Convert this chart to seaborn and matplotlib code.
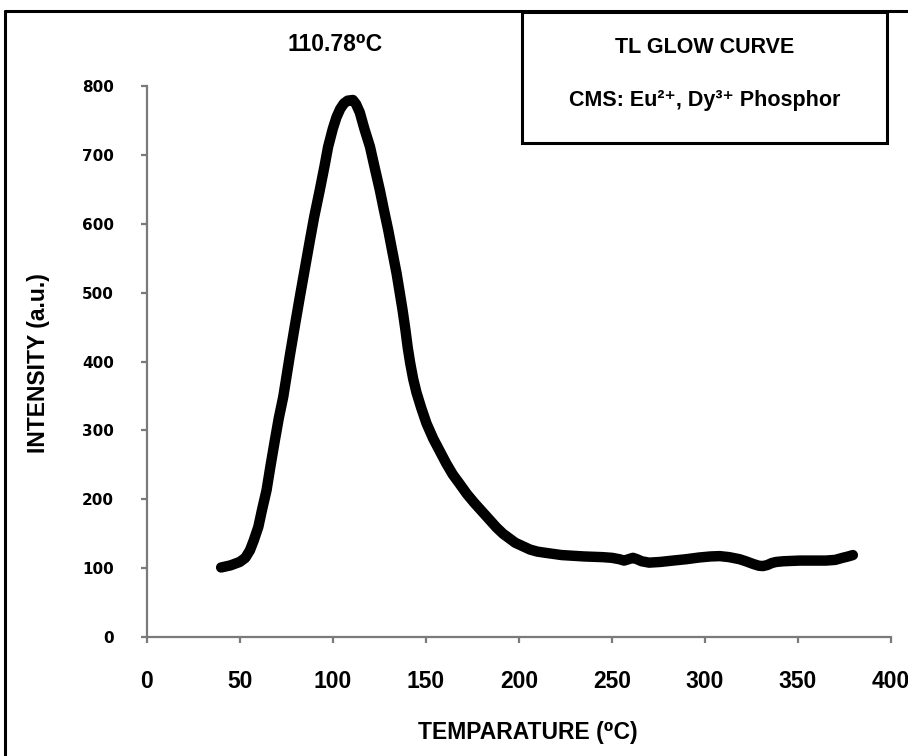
import matplotlib
matplotlib.use("Agg")
import matplotlib.pyplot as plt
import seaborn as sns
import pandas as pd
from matplotlib.patches import Rectangle
from matplotlib.lines import Line2D

# Thermoluminescence glow curve readings
temperature = [40, 45, 50, 53, 55.5, 57.5, 60, 62, 64.4, 66.5, 68.9, 71, 73.4, 77, 80,
               82.3, 85, 87.7, 90, 93, 95.5, 97.5, 100, 102, 104, 106, 108, 110.78,
               112.5, 114.5, 117, 120, 122.5, 125.3, 127.5, 129.8, 132, 134.3, 136,
               137.5, 139, 140.3, 141.6, 143.2, 145, 147.5, 150.4, 154, 157.5, 161,
               164.5, 168.3, 172, 176, 179, 182, 185, 188, 191.5, 195, 198, 202, 206,
               210, 215, 223, 235, 245, 250, 254, 256.5, 259, 261.3, 263.5, 266, 270,
               276, 282.8, 290, 297, 303, 308, 313, 318.6, 322, 326, 329, 331.2, 333.5,
               336, 338.3, 342, 351, 358, 365, 370, 374, 377, 379.5]
intensity = [101, 104, 109, 115, 126, 140, 160, 185, 213, 248, 286, 318, 349, 410, 458,
             494, 535, 576, 610, 649, 683, 712, 738, 755, 767, 775, 779, 780,
             774, 762, 738, 712, 682, 649, 620, 591, 560, 528, 500,
             475, 447, 420, 398, 375, 355, 333, 310, 288, 270, 252,
             236, 222, 208, 195, 186, 177, 168, 159, 150, 143, 137, 132, 127,
             124, 122, 119, 117, 116, 115, 113, 111, 113, 115, 113, 110, 108,
             109, 111, 113, 115.5, 117, 117.5, 116, 113, 110, 106, 103.5, 103, 104.5,
             107.5, 109, 110, 111, 111, 111, 112, 115, 117, 119]

x_ticks = [0, 50, 100, 150, 200, 250, 300, 350, 400]
y_ticks = [0, 100, 200, 300, 400, 500, 600, 700, 800]

peak_temperature = 110.78
peak_intensity = intensity[temperature.index(peak_temperature)]

box_title = "TL GLOW CURVE"
box_subtitle = "CMS: Eu²⁺, Dy³⁺ Phosphor"
x_label = "TEMPARATURE (⁰C)"
y_label = "INTENSITY (a.u.)"

sns.set_theme(style="white")
TEXT_FONT = ["Liberation Sans", "DejaVu Sans"]
plt.rcParams["font.family"] = TEXT_FONT

W, H = 908, 756
fig = plt.figure(figsize=(W / 100, H / 100), dpi=100)
fig.patch.set_facecolor("white")

# axes: x 0..400 spans px 146.7..891, y 0..800 spans px 637..86
left, right, bottom, top = 146.7, 891.0, 637.0, 86.2
ax = fig.add_axes([left / W, (H - bottom) / H, (right - left) / W, (bottom - top) / H])

df = pd.DataFrame({"temperature": temperature, "intensity": intensity})
sns.lineplot(data=df, x="temperature", y="intensity", ax=ax, color="black",
             linewidth=7.5, sort=False, estimator=None)
curve = ax.lines[0]
curve.set_solid_joinstyle("round")
curve.set_solid_capstyle("round")
curve.set_clip_on(False)

ax.set_xlim(0, 400)
ax.set_ylim(0, 800)
ax.set_xticks(x_ticks)
ax.set_yticks(y_ticks)
ax.set_xticklabels([str(t) for t in x_ticks])
ax.set_yticklabels([str(t) for t in y_ticks])

for side in ("top", "right"):
    ax.spines[side].set_visible(False)
for side in ("left", "bottom"):
    ax.spines[side].set_color("#7a7a7a")
    ax.spines[side].set_linewidth(1.6)

ax.tick_params(axis="both", direction="out", length=4.5, width=1.6, color="#7a7a7a",
               bottom=True, left=True)
ax.tick_params(axis="x", pad=19)
ax.tick_params(axis="y", pad=19)

for lbl in ax.get_xticklabels():
    lbl.set_fontfamily(TEXT_FONT)
    lbl.set_fontweight("bold")
    lbl.set_fontsize(16.5)
    lbl.set_color("black")
for lbl in ax.get_yticklabels():
    lbl.set_fontfamily(["DejaVu Sans"])
    lbl.set_fontweight("bold")
    lbl.set_fontsize(11)
    lbl.set_color("black")

ax.set_xlabel(x_label, fontsize=16.5, fontweight="bold", color="black")
ax.set_ylabel(y_label, fontsize=16.5, fontweight="bold", color="black")
ax.xaxis.set_label_coords((528 - left) / (right - left), -(732 - bottom) / (bottom - top))
ax.xaxis.label.set_va("center")
ax.yaxis.set_label_coords((38 - left) / (right - left), (bottom - 363) / (bottom - top))
ax.yaxis.label.set_va("center")

# peak temperature label
ax.annotate(f"{peak_temperature}⁰C", xy=(peak_temperature, peak_intensity),
            xytext=(-13, 35), textcoords="offset points", ha="center", va="baseline",
            fontsize=16.5, fontweight="bold", color="black", annotation_clip=False)

# outer frame (left and top edges)
fig.add_artist(Line2D([5 / W, 5 / W], [0, (H - 11) / H], transform=fig.transFigure,
                      color="black", linewidth=2.2))
fig.add_artist(Line2D([5 / W, 1], [(H - 11) / H, (H - 11) / H], transform=fig.transFigure,
                      color="black", linewidth=2.2))

# caption box
bx0, bx1, by0, by1 = 522, 887, 12, 143
fig.add_artist(Rectangle((bx0 / W, (H - by1) / H), (bx1 - bx0) / W, (by1 - by0) / H,
                         transform=fig.transFigure, fill=False, edgecolor="black",
                         linewidth=2.2))
cx = (bx0 + bx1) / 2 / W
fig.text(cx, (H - 53) / H, box_title, ha="center", va="baseline", fontsize=15.5,
         fontweight="bold", color="black")
fig.text(cx, (H - 106) / H, box_subtitle, ha="center", va="baseline", fontsize=15.5,
         fontweight="bold", color="black")

fig.savefig("out.png", dpi=100, facecolor="white")
